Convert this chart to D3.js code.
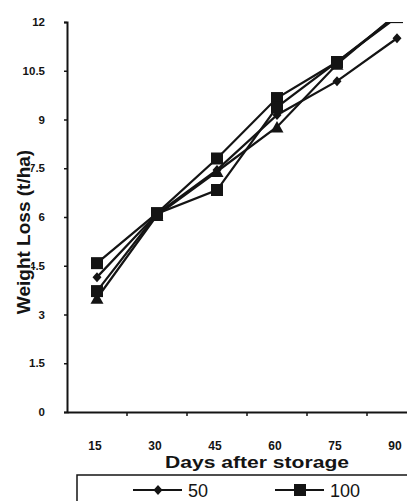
<!DOCTYPE html>
<html><head><meta charset="utf-8">
<script src="https://cdn.jsdelivr.net/npm/d3@7"></script>
<style>
body{margin:0;background:#fff;}
svg{display:block;font-family:"Liberation Sans",Arial,sans-serif;}
</style></head>
<body><svg id="c" width="407" height="501"></svg>
<script>
const days = ["15","30","45","60","75","90"];
const yTicks = [0,1.5,3,4.5,6,7.5,9,10.5,12];
const seriesNames = ["50","100","150","200"];
const seriesMarkers = ["diamond","square","triangle","square"];
const s50  = [4.15, 6.1, 7.45, 9.14, 10.18, 11.5];
const s100 = [4.58, 6.12, 7.8, 9.66, 10.77, 12.2];
const s150 = [3.5, 6.05, 7.4, 8.77, 10.7, 12.25];
const s200 = [3.72, 6.1, 6.83, 9.38, 10.77, 12.15];
const seriesValues = [s50, s100, s150, s200];
const xTitle = "Days after storage";
const yTitle = "Weight Loss (t/ha)";

(function(){
const svg = d3.select("#c");
const pL = 67, pR = 427, pT = 22, pB = 412;
const x = d3.scaleBand().domain(days).range([pL, pR]);
const y = d3.scaleLinear().domain([0,12]).range([pB, pT]);
const ink = "#141414";

svg.append("defs").append("clipPath").attr("id","pc")
  .append("rect").attr("x",pL).attr("y",pT).attr("width",407-pL).attr("height",pB-pT+10);

// x axis
const xa = svg.append("g").attr("transform",`translate(0,${pB})`)
  .call(d3.axisBottom(x).tickSize(0).tickPadding(0).tickFormat(""));
xa.select(".domain").attr("stroke",ink).attr("stroke-width",2);
svg.append("g").selectAll("line").data(days.slice(1)).join("line")
  .attr("x1",d=>x(d)).attr("x2",d=>x(d)).attr("y1",pB).attr("y2",pB+4)
  .attr("stroke",ink).attr("stroke-width",1.5);
svg.append("g").selectAll("text").data(days).join("text")
  .attr("x",d=>x(d)+x.bandwidth()/2-2).attr("y",450)
  .attr("text-anchor","middle").attr("font-weight","bold").attr("font-size",12).attr("fill",ink)
  .text(d=>d);

// y axis
const ya = svg.append("g").attr("transform",`translate(${pL},0)`)
  .call(d3.axisLeft(y).tickValues(yTicks).tickSize(3).tickPadding(19).tickFormat(d=>String(d)));
ya.select(".domain").attr("stroke",ink).attr("stroke-width",2);
ya.selectAll(".tick line").attr("stroke",ink).attr("stroke-width",1.5);
ya.selectAll(".tick text").attr("font-weight","bold").attr("font-size",11.5).attr("fill",ink)
  .attr("font-family","Liberation Sans, Arial, sans-serif");

// legend (only the entries that fit in the visible frame)
function marker(type){
  if(type==="diamond") return "M0,-5L4.5,0L0,5L-4.5,0Z";
  if(type==="square") return "M-6,-6H6V6H-6Z";
  return "M0,-6L6.5,5.5H-6.5Z";
}
const lg = svg.append("g");
lg.append("path").attr("d","M77,501V475H407").attr("fill","none").attr("stroke",ink).attr("stroke-width",1.5);
const legX = [133, 275];
seriesNames.slice(0,2).forEach((n,i)=>{
  const g = lg.append("g").attr("transform",`translate(${legX[i]},490)`);
  g.append("line").attr("x1",0).attr("x2",49).attr("stroke",ink).attr("stroke-width",2);
  g.append("path").attr("transform","translate(25,0)").attr("d",marker(seriesMarkers[i])).attr("fill",ink);
  g.append("text").attr("x",55).attr("y",6.5).attr("font-size",18).attr("fill",ink).text(n);
});

// titles (drawn over legend frame / tick labels like the original)
svg.append("text").attr("x",257).attr("y",468).attr("text-anchor","middle")
  .attr("font-weight","bold").attr("font-size",17).attr("fill",ink)
  .attr("textLength",184).attr("lengthAdjust","spacingAndGlyphs")
  .attr("stroke","#fff").attr("stroke-width",3).attr("paint-order","stroke")
  .text(xTitle);
svg.append("text").attr("transform","translate(30,232) rotate(-90)").attr("text-anchor","middle")
  .attr("font-weight","bold").attr("font-size",19).attr("fill",ink)
  .attr("stroke","#fff").attr("stroke-width",2).attr("paint-order","stroke")
  .text(yTitle);

const plot = svg.append("g").attr("clip-path","url(#pc)");
const line = d3.line().x((d,i)=>x(days[i])+x.bandwidth()/2).y(d=>y(d));
seriesValues.forEach((vals,k)=>{
  plot.append("path").attr("d",line(vals)).attr("fill","none")
    .attr("stroke",ink).attr("stroke-width",2.2);
});
seriesValues.forEach((vals,k)=>{
  plot.append("g").selectAll("path").data(vals).join("path")
    .attr("transform",(d,i)=>`translate(${x(days[i])+x.bandwidth()/2},${y(d)})`)
    .attr("d",marker(seriesMarkers[k])).attr("fill",ink);
});
})();
</script></body></html>
